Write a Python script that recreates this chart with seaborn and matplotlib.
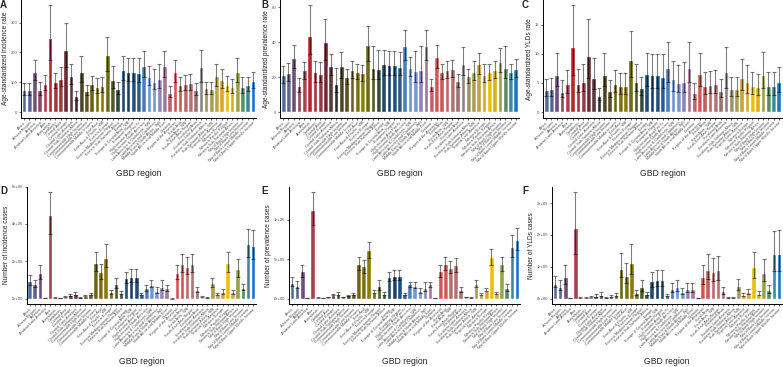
import numpy as np
import pandas as pd
import seaborn as sns
import matplotlib.pyplot as plt
from matplotlib.ticker import FuncFormatter

# GBD regions (x axis order)
regions = [
    "Africa", "African Region", "America", "Andean Latin America", "Asia",
    "Australasia", "Caribbean", "Central Asia", "Central Europe",
    "Central Latin America", "Central Sub-Saharan Africa",
    "Commonwealth High Income", "Commonwealth Low Income",
    "Commonwealth Middle Income", "East Asia", "East Asia & Pacific - WB",
    "Eastern Europe", "Eastern Mediterranean Region", "Eastern Sub-Saharan Africa",
    "Europe", "Europe & Central Asia - WB", "European Region",
    "High-income Asia Pacific", "High-income North America",
    "Latin America & Caribbean - WB", "Latin America and Caribbean",
    "Middle East & North Africa - WB", "North Africa and Middle East", "Oceania",
    "Region of the Americas", "South Asia", "South Asia - WB",
    "South-East Asia Region", "Southeast Asia", "Southern Latin America",
    "Southern Sub-Saharan Africa", "Sub-Saharan Africa - WB",
    "Tropical Latin America", "Western Europe", "Western Pacific Region",
    "Western Sub-Saharan Africa", "World Bank High Income",
    "World Bank Low Income", "World Bank Lower Middle Income",
    "World Bank Upper Middle Income",
]

region_colors = [
    "#4e6d9c", "#5d6490", "#6f4f78", "#8c4a63", "#a8404e", "#b8272d", "#a3343c",
    "#963a42", "#6b2a33", "#5a3a3c", "#2f2f2f", "#4b4322", "#5c5222", "#6e6216",
    "#7d6e0c", "#8a7a08", "#6f6a1a", "#4e5a2a", "#2f4a3e", "#1f4b6e", "#1b4068",
    "#1f4f7d", "#2a5a8c", "#4a7dbd", "#6f95d2", "#7b95cf", "#8e86b4", "#a27896",
    "#c0606e", "#d45555", "#c85a5a", "#c06868", "#b07272", "#9a7272", "#8c8484",
    "#9c9466", "#aa9c50", "#c2a23c", "#d4aa28", "#eac000", "#d6b01e", "#98a24e",
    "#5a8c62", "#3a8aa2", "#1a76c8",
]

# A: age-standardized incidence rate
inc_rate = [75, 75, 133, 75, 95, 247, 100, 110, 210, 122, 53, 135, 72, 95, 85,
            88, 190, 107, 78, 140, 135, 135, 130, 155, 118, 102, 110, 155, 65,
            133, 92, 95, 98, 75, 150, 80, 78, 120, 108, 92, 84, 135, 85, 92, 103]
inc_rate_lo = [56, 57, 107, 57, 75, 175, 80, 88, 150, 96, 40, 100, 58, 75, 65,
               68, 138, 80, 62, 108, 103, 103, 100, 118, 90, 78, 80, 118, 50,
               100, 70, 73, 74, 58, 100, 60, 60, 88, 82, 70, 63, 100, 65, 72, 80]
inc_rate_hi = [97, 98, 175, 100, 123, 358, 132, 150, 298, 162, 72, 187, 92, 120,
               115, 117, 252, 155, 100, 188, 183, 183, 181, 206, 155, 146, 162,
               206, 87, 175, 118, 123, 128, 97, 208, 102, 101, 162, 146, 120,
               112, 182, 117, 118, 135]

# B: age-standardized prevalence rate
prev_rate = [21, 22.3, 31.2, 15, 23.8, 43.6, 22.7, 21.9, 39.8, 26.5, 15.8, 26.1,
             19.8, 24.2, 23.2, 22.1, 38.5, 25.1, 24.6, 27.4, 27, 27, 26, 37.9,
             25.5, 23.4, 24.2, 37.9, 15, 31.4, 23, 24, 24.8, 17.9, 27.4, 20.4,
             23.2, 27.4, 21.3, 23, 24.2, 28.8, 25.5, 23, 24.8]
prev_rate_lo = [16.5, 18, 25, 11.5, 19, 33, 17.5, 17, 30, 21, 11.5, 19.5, 16,
                19.5, 19, 18, 29.5, 19, 19, 21.5, 21.5, 21.5, 21, 30, 20.5, 17,
                17, 30, 12, 25, 19, 19.5, 20, 14.5, 21.5, 16.5, 18.5, 22, 17,
                18.5, 19.5, 23, 19.5, 19, 20]
prev_rate_hi = [26.5, 28, 38.5, 19.5, 28.7, 61, 29.5, 28.7, 53, 33, 25, 34.5,
                24.5, 29.5, 27.5, 27, 49, 37.5, 35.5, 35.5, 35, 35, 34.5, 47,
                31.5, 35, 38, 47, 19, 38.5, 27.5, 29, 30, 22, 37, 24.5, 29, 34,
                27.5, 27.5, 29, 36.5, 37.5, 27.5, 30.5]

# C: age-standardized YLDs rate
yld_rate = [3.8, 3.9, 6.4, 3.5, 4.8, 11.2, 4.8, 5.2, 9.7, 5.8, 2.7, 6.3, 3.7,
            4.8, 4.4, 4.4, 8.9, 5.2, 4.1, 6.5, 6.4, 6.4, 6.1, 7.6, 5.7, 5.0,
            5.2, 7.6, 3.2, 6.5, 4.5, 4.7, 4.9, 3.6, 6.9, 4.0, 4.0, 5.8, 5.1,
            4.5, 4.3, 6.4, 4.5, 4.5, 5.1]
yld_rate_lo = [2.7, 2.7, 4.5, 2.6, 3.3, 6.4, 3.4, 3.6, 5.9, 4.0, 2.0, 4.4, 2.6,
               3.4, 3.1, 3.1, 6.0, 3.6, 2.9, 4.4, 4.2, 4.2, 4.1, 5.2, 3.7, 3.4,
               3.4, 5.1, 2.3, 4.4, 3.1, 3.2, 3.3, 2.6, 4.2, 2.7, 2.7, 3.8, 3.3,
               3.1, 3.0, 4.2, 2.9, 2.9, 3.5]
yld_rate_hi = [5.7, 5.8, 10.2, 5.5, 7.2, 18.3, 7.4, 8.2, 16.0, 9.2, 4.1, 10.2,
               5.5, 7.2, 6.7, 6.7, 13.9, 8.3, 6.0, 10.2, 10.0, 10.0, 10.0, 12.0,
               8.8, 8.0, 8.6, 12.0, 5.0, 10.2, 6.8, 7.1, 7.3, 5.6, 11.2, 6.0,
               6.0, 9.1, 8.1, 6.9, 6.6, 10.3, 6.9, 6.8, 7.8]

# D: number of incidence cases
inc_num = [0.95e6, 0.77e6, 1.35e6, 0.05e6, 4.5e6, 0.05e6, 0.04e6, 0.1e6, 0.2e6,
           0.27e6, 0.07e6, 0.16e6, 0.25e6, 1.93e6, 1.4e6, 2.2e6, 0.35e6, 0.78e6,
           0.3e6, 1.1e6, 1.17e6, 1.17e6, 0.23e6, 0.55e6, 0.75e6, 0.43e6, 0.65e6,
           0.55e6, 0.01e6, 1.35e6, 1.85e6, 1.7e6, 1.85e6, 0.48e6, 0.1e6, 0.07e6,
           0.83e6, 0.25e6, 0.36e6, 1.89e6, 0.36e6, 1.58e6, 0.57e6, 2.93e6, 2.82e6]
inc_num_lo = [0.75e6, 0.6e6, 1.05e6, 0.04e6, 3.45e6, 0.04e6, 0.03e6, 0.08e6,
              0.15e6, 0.2e6, 0.05e6, 0.12e6, 0.19e6, 1.5e6, 1.05e6, 1.7e6,
              0.27e6, 0.55e6, 0.23e6, 0.85e6, 0.9e6, 0.9e6, 0.17e6, 0.43e6,
              0.6e6, 0.32e6, 0.45e6, 0.43e6, 0.008e6, 1.05e6, 1.45e6, 1.33e6,
              1.42e6, 0.38e6, 0.08e6, 0.05e6, 0.62e6, 0.19e6, 0.27e6, 1.45e6,
              0.27e6, 1.18e6, 0.45e6, 2.25e6, 2.12e6]
inc_num_hi = [1.25e6, 1.0e6, 1.8e6, 0.06e6, 5.7e6, 0.07e6, 0.05e6, 0.13e6,
              0.27e6, 0.38e6, 0.09e6, 0.22e6, 0.33e6, 2.48e6, 1.85e6, 2.9e6,
              0.48e6, 1.13e6, 0.4e6, 1.45e6, 1.58e6, 1.6e6, 0.3e6, 0.75e6, 1.0e6,
              0.62e6, 0.98e6, 0.75e6, 0.013e6, 1.78e6, 2.38e6, 2.22e6, 2.38e6,
              0.65e6, 0.12e6, 0.09e6, 1.08e6, 0.33e6, 0.5e6, 2.48e6, 0.45e6,
              2.12e6, 0.8e6, 3.75e6, 3.65e6]

# E: number of prevalence cases
prev_num = [2.0e5, 1.65e5, 3.5e5, 0.1e5, 11.2e5, 0.12e5, 0.08e5, 0.2e5, 0.5e5,
            0.6e5, 0.2e5, 0.4e5, 0.55e5, 4.35e5, 4.1e5, 6.1e5, 0.9e5, 1.6e5,
            0.65e5, 2.7e5, 2.85e5, 2.85e5, 0.6e5, 1.8e5, 1.65e5, 1.0e5, 1.4e5,
            1.8e5, 0.05e5, 3.5e5, 4.35e5, 3.9e5, 4.2e5, 1.15e5, 0.2e5, 0.15e5,
            1.8e5, 0.6e5, 1.15e5, 5.3e5, 0.7e5, 4.35e5, 1.3e5, 6.5e5, 7.4e5]
prev_num_lo = [1.6e5, 1.3e5, 2.8e5, 0.08e5, 9.3e5, 0.1e5, 0.06e5, 0.16e5, 0.4e5,
               0.48e5, 0.16e5, 0.32e5, 0.44e5, 3.6e5, 3.3e5, 5.1e5, 0.7e5,
               1.1e5, 0.5e5, 2.2e5, 2.3e5, 2.3e5, 0.48e5, 1.5e5, 1.3e5, 0.75e5,
               1.0e5, 1.45e5, 0.04e5, 2.8e5, 3.6e5, 3.2e5, 3.4e5, 0.9e5, 0.16e5,
               0.12e5, 1.45e5, 0.5e5, 0.95e5, 4.3e5, 0.55e5, 3.5e5, 0.95e5,
               5.3e5, 6.1e5]
prev_num_hi = [2.7e5, 2.2e5, 4.2e5, 0.12e5, 13.5e5, 0.15e5, 0.1e5, 0.25e5,
               0.62e5, 0.8e5, 0.25e5, 0.5e5, 0.7e5, 5.3e5, 4.9e5, 7.2e5, 1.15e5,
               2.4e5, 0.85e5, 3.4e5, 3.6e5, 3.6e5, 0.75e5, 2.1e5, 2.05e5, 1.4e5,
               2.1e5, 2.15e5, 0.06e5, 4.2e5, 5.3e5, 4.8e5, 5.1e5, 1.45e5, 0.24e5,
               0.18e5, 2.3e5, 0.75e5, 1.4e5, 6.3e5, 0.9e5, 5.3e5, 1.9e5, 8.0e5,
               8.9e5]

# F: number of YLDs cases
yld_num = [4.7e4, 3.7e4, 6.8e4, 0.2e4, 22.3e4, 0.3e4, 0.3e4, 0.6e4, 0.9e4, 1.2e4,
           0.4e4, 0.7e4, 1.1e4, 9.4e4, 7.2e4, 11.3e4, 1.7e4, 3.7e4, 1.4e4, 5.4e4,
           5.8e4, 5.8e4, 1.1e4, 3.0e4, 3.6e4, 2.1e4, 3.1e4, 3.1e4, 0.1e4, 6.8e4,
           9.0e4, 8.4e4, 8.9e4, 2.3e4, 0.4e4, 0.4e4, 4.0e4, 1.2e4, 2.0e4, 9.8e4,
           1.6e4, 8.0e4, 2.8e4, 14.1e4, 14.1e4]
yld_num_lo = [3.7e4, 2.8e4, 4.6e4, 0.15e4, 14.0e4, 0.2e4, 0.2e4, 0.4e4, 0.6e4,
              0.8e4, 0.3e4, 0.5e4, 0.8e4, 6.8e4, 4.9e4, 7.6e4, 1.2e4, 2.5e4,
              1.0e4, 3.8e4, 4.0e4, 4.0e4, 0.8e4, 2.0e4, 2.4e4, 1.4e4, 2.1e4,
              2.1e4, 0.07e4, 4.6e4, 6.1e4, 5.5e4, 6.0e4, 1.6e4, 0.3e4, 0.3e4,
              2.6e4, 0.8e4, 1.4e4, 6.6e4, 1.1e4, 5.5e4, 1.9e4, 8.7e4, 8.7e4]
yld_num_hi = [7.1e4, 5.8e4, 10.5e4, 0.3e4, 33.5e4, 0.45e4, 0.45e4, 0.9e4, 1.4e4,
              2.0e4, 0.6e4, 1.1e4, 1.7e4, 14.3e4, 11.3e4, 17.1e4, 2.7e4, 6.0e4,
              2.1e4, 8.4e4, 8.9e4, 8.9e4, 1.6e4, 4.8e4, 5.7e4, 3.3e4, 4.9e4,
              4.9e4, 0.15e4, 10.5e4, 14.0e4, 12.7e4, 13.4e4, 3.7e4, 0.6e4, 0.6e4,
              6.1e4, 1.8e4, 3.1e4, 14.7e4, 2.5e4, 12.5e4, 4.3e4, 21.2e4, 21.5e4]

panels = [
    ("A", "Age-standardized incidence rate", inc_rate, inc_rate_lo, inc_rate_hi,
     [0, 100, 200, 300], False),
    ("B", "Age-standardized prevalence rate", prev_rate, prev_rate_lo, prev_rate_hi,
     [0, 20, 40, 60], False),
    ("C", "Age-standardized YLDs rate", yld_rate, yld_rate_lo, yld_rate_hi,
     [0, 5, 10, 15], False),
    ("D", "Number of incidence cases", inc_num, inc_num_lo, inc_num_hi,
     [0, 2e6, 4e6, 6e6], True),
    ("E", "Number of prevalence cases", prev_num, prev_num_lo, prev_num_hi,
     [0, 5e5, 1e6], True),
    ("F", "Number of YLDs cases", yld_num, yld_num_lo, yld_num_hi,
     [0, 1e5, 2e5, 3e5], True),
]

# axes boxes in pixels: left, right, top, bottom
W, H = 783, 367
boxes = [(21, 256, 0, 117.5), (280, 519, 0, 117.5), (543, 782, 0, 117.5),
         (26.6, 256, 186.5, 304), (289, 520, 186.5, 304), (552, 782, 186.5, 304)]
letter_pos = [(0, 0), (261, 0), (522, 0), (0, 186), (261, 186), (522, 186)]
xlabel_y = [173, 173, 173, 362, 362, 362]

sns.set_theme(style="ticks")
plt.rcParams['font.family'] = ['Liberation Sans', 'DejaVu Sans']

fig = plt.figure(figsize=(W / 100, H / 100), dpi=100)

for (letter, ylab, vals, lo, hi, yticks, sci), (l, r, t, b), (lx, ly), xly in zip(
        panels, boxes, letter_pos, xlabel_y):
    ax = fig.add_axes([l / W, 1 - b / H, (r - l) / W, (b - t) / H])
    df = pd.DataFrame({'region': regions, 'value': vals, 'lower': lo, 'upper': hi})
    sns.barplot(data=df, x='region', y='value', hue='region', order=regions,
                palette=region_colors, legend=False, errorbar=None, width=0.9,
                saturation=1, ax=ax)
    pos = np.arange(len(df))
    ax.errorbar(pos, df['value'], yerr=[df['value'] - df['lower'], df['upper'] - df['value']],
                fmt='none', ecolor='black', alpha=0.5, elinewidth=0.8,
                capsize=1.6, capthick=0.8)
    top = df['upper'].max()
    ax.set_ylim(-0.05 * top, 1.05 * top)
    ax.set_xlim(-0.6, len(df) - 0.4)
    ax.set_yticks(yticks)
    if sci:
        ax.yaxis.set_major_formatter(FuncFormatter(lambda v, p: f"{v:.0e}"))
    ax.tick_params(axis='y', labelsize=3.0, length=1.5, width=0.5, pad=1, colors='#333333')
    ax.tick_params(axis='x', labelsize=2.7, length=1.5, width=0.5, pad=0.8, colors='#333333')
    plt.setp(ax.get_xticklabels(), rotation=45, ha='right', va='top', rotation_mode='anchor',
             color='#4d4d4d')
    plt.setp(ax.get_yticklabels(), color='#4d4d4d')
    for s in ['left', 'bottom']:
        ax.spines[s].set_linewidth(0.7)
        ax.spines[s].set_color('black')
    sns.despine(ax=ax)
    ax.set_ylabel(ylab, fontsize=4.7, labelpad=1.5)
    ax.set_xlabel("GBD region", fontsize=6.2, va='center')
    ax.xaxis.set_label_coords(0.5, -(xly - b) / (b - t))
    fig.text(lx / W, 1 - ly / H, letter, fontsize=7, fontweight='bold', ha='left', va='top')

fig.savefig('out.png', dpi=100)
